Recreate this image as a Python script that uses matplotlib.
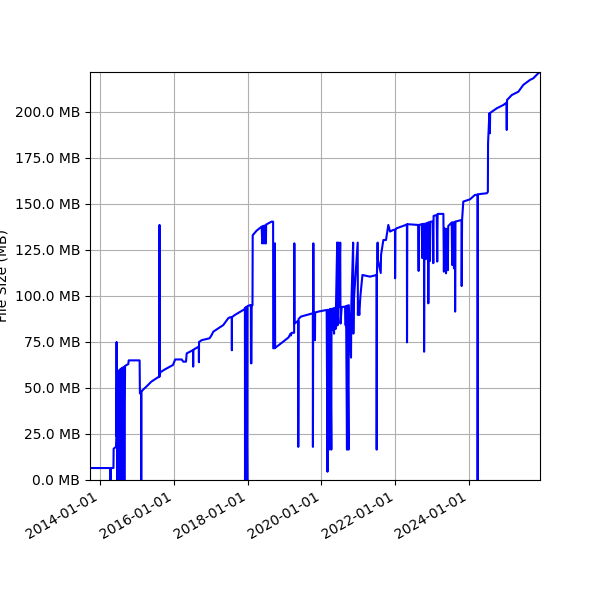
import numpy as np
import pandas as pd
import matplotlib
matplotlib.use("Agg")
import matplotlib.pyplot as plt
import matplotlib.dates as mdates
from matplotlib.ticker import MultipleLocator, FuncFormatter

# (date, size in MB)
dates = [
    "2013-09-24", "2014-04-14", "2014-04-15", "2014-04-16", "2014-05-14", "2014-05-16",
    "2014-06-08", "2014-06-12", "2014-06-14", "2014-06-16", "2014-06-19", "2014-06-21",
    "2014-06-24", "2014-06-27", "2014-07-04", "2014-07-08", "2014-07-15", "2014-07-20",
    "2014-07-28", "2014-08-03", "2014-08-10", "2014-08-16", "2014-08-24", "2014-08-30",
    "2014-09-06", "2014-10-08", "2014-10-12", "2015-01-28", "2015-01-31", "2015-02-12",
    "2015-02-13", "2015-02-14", "2015-03-02", "2015-04-04", "2015-05-23", "2015-07-28",
    "2015-08-12", "2015-08-13", "2015-08-14", "2015-08-20", "2015-10-02", "2015-11-24",
    "2015-12-24", "2016-01-15", "2016-03-20", "2016-04-04", "2016-05-01", "2016-05-08",
    "2016-07-10", "2016-07-11", "2016-07-12", "2016-07-19", "2016-09-05", "2016-09-06",
    "2016-09-07", "2016-10-04", "2016-12-20", "2017-01-10", "2017-01-26", "2017-05-05",
    "2017-06-23", "2017-07-10", "2017-07-28", "2017-07-29", "2017-07-30", "2017-08-28",
    "2017-11-19", "2017-12-05", "2017-12-06", "2017-12-08", "2017-12-12", "2017-12-15",
    "2017-12-28", "2017-12-30", "2018-01-24", "2018-02-02", "2018-02-03", "2018-02-08",
    "2018-02-10", "2018-02-18", "2018-02-20", "2018-03-31", "2018-05-20", "2018-05-25",
    "2018-06-01", "2018-06-05", "2018-06-15", "2018-06-20", "2018-07-01", "2018-07-03",
    "2018-08-26", "2018-09-10", "2018-09-11", "2018-09-26", "2018-09-28", "2018-09-30",
    "2018-12-15", "2019-02-10", "2019-03-01", "2019-03-05", "2019-03-13", "2019-04-06",
    "2019-04-08", "2019-04-10", "2019-05-16", "2019-05-17", "2019-05-20", "2019-06-13",
    "2019-10-08", "2019-10-09", "2019-10-11", "2019-10-13", "2019-10-15", "2019-10-28",
    "2019-10-29", "2019-10-31", "2019-12-01", "2020-02-22", "2020-03-01", "2020-03-03",
    "2020-03-15", "2020-03-17", "2020-03-25", "2020-03-28", "2020-04-08", "2020-04-10",
    "2020-04-20", "2020-04-24", "2020-05-05", "2020-05-08", "2020-05-20", "2020-05-24",
    "2020-06-05", "2020-06-08", "2020-06-15", "2020-06-20", "2020-07-05", "2020-07-08",
    "2020-07-20", "2020-08-22", "2020-08-28", "2020-09-01", "2020-09-10", "2020-09-13",
    "2020-09-25", "2020-09-28", "2020-10-20", "2020-10-23", "2020-11-10", "2020-11-12",
    "2020-11-15", "2020-12-25", "2020-12-27", "2020-12-31", "2021-01-10", "2021-01-20",
    "2021-02-10", "2021-04-26", "2021-06-30", "2021-07-01", "2021-07-03", "2021-07-10",
    "2021-07-13", "2021-08-10", "2021-08-13", "2021-09-05", "2021-10-01", "2021-10-24",
    "2021-11-10", "2021-12-13", "2021-12-29", "2021-12-30", "2022-01-02", "2022-01-15",
    "2022-04-26", "2022-04-27", "2022-04-30", "2022-08-15", "2022-08-20", "2022-08-24",
    "2022-09-20", "2022-09-25", "2022-09-29", "2022-10-12", "2022-10-13", "2022-10-16",
    "2022-10-30", "2022-11-03", "2022-11-22", "2022-11-24", "2022-11-27", "2022-12-10",
    "2022-12-14", "2023-01-08", "2023-01-12", "2023-01-15", "2023-02-15", "2023-02-20",
    "2023-02-24", "2023-04-22", "2023-04-27", "2023-05-02", "2023-05-15", "2023-05-18",
    "2023-05-22", "2023-06-05", "2023-06-09", "2023-07-13", "2023-07-18", "2023-07-22",
    "2023-08-05", "2023-08-08", "2023-08-15", "2023-08-16", "2023-08-19", "2023-10-18",
    "2023-10-20", "2023-10-24", "2023-11-05", "2024-01-10", "2024-02-28", "2024-03-25",
    "2024-03-26", "2024-03-28", "2024-04-18", "2024-06-24", "2024-07-05", "2024-07-07",
    "2024-07-20", "2024-07-25", "2024-07-28", "2024-10-02", "2024-12-06", "2025-01-05",
    "2025-01-08", "2025-01-11", "2025-02-27", "2025-05-03", "2025-06-21", "2025-08-26",
    "2025-09-28", "2025-11-10", "2025-12-03",
]
sizes_mb = [
    6.5, 6.5, 0, 6.5, 6.5, 17,
    18, 23.5, 75, 23.5, 57, 0,
    58, 0, 59, 0, 60, 0,
    60.5, 0, 61, 0, 61.5, 0,
    62, 63, 65, 65, 47, 48,
    0, 48, 49, 50.7, 53.4, 55.8,
    56, 138.6, 56.5, 58.5, 60, 61.6,
    62.5, 65.5, 65.5, 64.3, 64.3, 68.8,
    70.6, 61.6, 70.6, 71, 72.5, 64,
    75, 76, 77, 78.8, 80.6, 84.2,
    87.9, 88.4, 88.5, 70.5, 88.5, 89.7,
    92.4, 93, 0, 93.5, 0, 94,
    0, 94.5, 95, 95, 63.4, 63.4,
    95, 95, 133, 135.5, 137.7, 128.6,
    138, 128.6, 138.3, 128.6, 128.6, 138.8,
    140.4, 140.4, 71.6, 71.6, 128.6, 71.8,
    75, 77.5, 79.5, 78.5, 80, 80,
    128.6, 85, 86.5, 18, 87.5, 88.8,
    90.6, 18, 90.6, 128.6, 90.6, 90.8,
    76, 91, 91.5, 92.4, 4.5, 92.5,
    16.5, 92.5, 80, 93, 16.5, 93,
    81.5, 93.2, 79.5, 93.5, 82, 93.5,
    129, 84, 129, 93.8, 129, 85,
    94, 94.2, 84, 94.5, 16.5, 94.8,
    16.5, 95, 66.5, 95.1, 129, 79.5,
    96, 129, 89.7, 96.9, 89.7, 99.6,
    111.4, 110.5, 111.4, 16.5, 111.4, 129,
    119.6, 112.5, 122.3, 130.4, 130.4, 138.6,
    135, 135.9, 136, 109.6, 136, 136.8,
    138.8, 74.8, 139, 138.6, 113.6, 138.6,
    139, 120.6, 139, 139.2, 69.7, 139.2,
    120, 139.5, 139.8, 96, 140, 119,
    140.4, 140.4, 117.8, 143.5, 144, 118.7,
    144.6, 144.6, 113.2, 136.8, 136.2, 112.3,
    136.5, 114, 138, 139.9, 116.8, 140,
    115, 140.2, 140.3, 91.5, 140.4, 141.3,
    105.4, 141.3, 151.3, 152.5, 154.9, 155,
    0, 155.2, 155.4, 155.8, 156.5, 183,
    199.3, 188.4, 199.5, 202, 203.8, 205,
    190.2, 206.5, 209.2, 211, 214.7, 217.4,
    218.3, 220.7, 221.7,
]

df = pd.DataFrame({"date": pd.to_datetime(dates), "size": sizes_mb})

fig, ax = plt.subplots(figsize=(6, 6), dpi=100)
ax.plot(df["date"], df["size"], color="blue", linewidth=1.5)

ax.set_xlim(df["date"].min(), df["date"].max())
ax.set_ylim(0, df["size"].max())
ax.yaxis.set_major_locator(MultipleLocator(25))
ax.yaxis.set_major_formatter(FuncFormatter(lambda v, p: f"{v:.1f} MB"))
ax.xaxis.set_major_locator(mdates.YearLocator(2))
ax.xaxis.set_major_formatter(mdates.DateFormatter("%Y-%m-%d"))
ax.set_ylabel("File Size (MB)")
ax.grid(True)

fig.autofmt_xdate()
fig.subplots_adjust(left=0.15, right=0.9, top=0.88, bottom=0.2)
fig.savefig("out.png", dpi=100)
